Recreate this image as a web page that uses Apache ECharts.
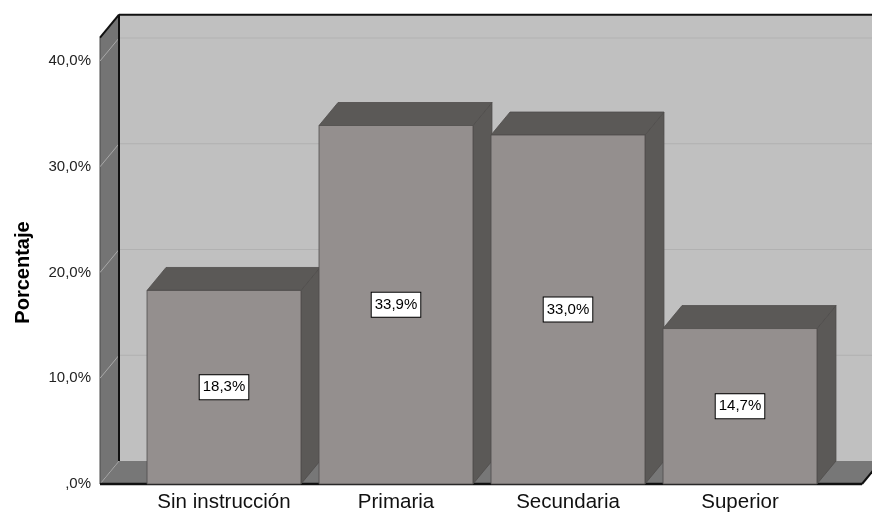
<!DOCTYPE html>
<html>
<head>
<meta charset="utf-8">
<script src="https://cdn.jsdelivr.net/npm/echarts@6/dist/echarts.min.js"></script>
<style>
  html, body { margin: 0; padding: 0; background: #ffffff; }
  #chart { width: 872px; height: 515px; }
</style>
</head>
<body>
<div id="chart"></div>
<script>
// Nivel de instrucción — porcentaje de encuestados
const categories = ['Sin instrucción', 'Primaria', 'Secundaria', 'Superior'];
const percentages = [18.3, 33.9, 33.0, 14.7];
const yTicks = [0, 10, 20, 30, 40];
const yTickLabels = [',0%', '10,0%', '20,0%', '30,0%', '40,0%'];
const barLabels = ['18,3%', '33,9%', '33,0%', '14,7%'];

// 3D look: depth offset of the back plane, wall height
const DX = 19, DY = -23;
const WALL_TOP = 42.2;
const FONT = 'Arial, "Liberation Sans", sans-serif';

const chart = echarts.init(document.getElementById('chart'), null, { renderer: 'canvas' });

function chamber(params, api) {
  const band = api.size([1, 0])[0];
  const xl = api.coord([0, 0])[0] - band / 2 - 38;
  const xr = api.coord([categories.length - 1, 0])[0] + band / 2 + 36;
  const yF = api.coord([0, 0])[1];
  const yW = api.coord([0, WALL_TOP])[1];
  const farRight = xr + DX + 40;
  const kids = [];
  // back wall
  kids.push({ type: 'rect', shape: { x: xl + DX, y: yW + DY, width: farRight - xl - DX, height: yF - yW },
    style: { fill: '#c0c0c0' } });
  // grid lines on the back wall and on the left wall
  yTicks.forEach(v => {
    if (v === 0) return;
    const y = api.coord([0, v])[1];
    kids.push({ type: 'line', shape: { x1: xl + DX, y1: y + DY, x2: farRight, y2: y + DY },
      style: { stroke: '#b1b1b1', lineWidth: 1.2 } });
  });
  // left wall
  kids.push({ type: 'polygon', shape: { points: [[xl, yF], [xl, yW], [xl + DX, yW + DY], [xl + DX, yF + DY]] },
    style: { fill: '#747474', stroke: '#4a4a4a', lineWidth: 1 } });
  yTicks.forEach(v => {
    if (v === 0) return;
    const y = api.coord([0, v])[1];
    kids.push({ type: 'line', shape: { x1: xl, y1: y, x2: xl + DX, y2: y + DY },
      style: { stroke: '#a8a8a8', lineWidth: 1 } });
  });
  // floor
  kids.push({ type: 'polygon', shape: { points: [[xl, yF], [xl + DX, yF + DY], [xr + DX, yF + DY], [xr, yF]] },
    style: { fill: '#777777' } });
  kids.push({ type: 'line', shape: { x1: xl, y1: yF, x2: xl + DX, y2: yF + DY },
    style: { stroke: '#a8a8a8', lineWidth: 1 } });
  // dark outline edges
  const edge = { stroke: '#111111', lineWidth: 2 };
  kids.push({ type: 'line', shape: { x1: xl + DX, y1: yW + DY, x2: xl + DX, y2: yF + DY }, style: edge });
  kids.push({ type: 'line', shape: { x1: xl + DX, y1: yW + DY, x2: farRight, y2: yW + DY }, style: edge });
  kids.push({ type: 'line', shape: { x1: xl, y1: yW, x2: xl + DX, y2: yW + DY }, style: edge });
  kids.push({ type: 'line', shape: { x1: xl, y1: yF, x2: xr, y2: yF }, style: { stroke: '#111111', lineWidth: 2.5 } });
  kids.push({ type: 'line', shape: { x1: xr, y1: yF, x2: xr + DX, y2: yF + DY }, style: edge });
  return { type: 'group', children: kids };
}

function bar3d(params, api) {
  const i = api.value(0);
  const v = api.value(1);
  const band = api.size([1, 0])[0];
  const w = band * 0.895;
  const top = api.coord([i, v]);
  const yF = api.coord([i, 0])[1];
  const x1 = top[0] - w / 2, x2 = top[0] + w / 2, yT = top[1];
  const line = { stroke: '#4f4d4b', lineWidth: 0.8 };
  return {
    type: 'group',
    children: [
      { type: 'polygon', shape: { points: [[x2, yT], [x2 + DX, yT + DY], [x2 + DX, yF + DY], [x2, yF]] },
        style: Object.assign({ fill: '#5b5957' }, line) },
      { type: 'polygon', shape: { points: [[x1, yT], [x1 + DX, yT + DY], [x2 + DX, yT + DY], [x2, yT]] },
        style: Object.assign({ fill: '#5b5957' }, line) },
      { type: 'rect', shape: { x: x1, y: yT, width: w, height: yF - yT },
        style: Object.assign({ fill: '#948f8e' }, line) },
      { type: 'text', x: top[0], y: (yT + yF) / 2,
        style: { text: barLabels[i], font: '15px ' + FONT, fill: '#000', align: 'center', verticalAlign: 'middle',
          backgroundColor: '#ffffff', borderColor: '#000000', borderWidth: 1, padding: [5, 3, 4, 3] } }
    ]
  };
}

chart.setOption({
  animation: false,
  backgroundColor: '#ffffff',
  grid: { left: 138, right: 46, top: 61, bottom: 31 },
  xAxis: {
    type: 'category',
    data: categories,
    axisLine: { show: false },
    axisTick: { show: false },
    axisLabel: { interval: 0, hideOverlap: false, color: '#111', fontFamily: FONT, fontSize: 20.5, margin: 8 }
  },
  yAxis: {
    type: 'value',
    min: 0, max: 40, interval: 10,
    name: 'Porcentaje',
    nameLocation: 'middle',
    nameRotate: 90,
    nameGap: 105,
    nameTextStyle: { color: '#000', fontFamily: FONT, fontSize: 20, fontWeight: 'bold' },
    axisLine: { show: false },
    axisTick: { show: false },
    splitLine: { show: false },
    axisLabel: {
      color: '#222', fontFamily: FONT, fontSize: 15, margin: 47,
      formatter: (val) => yTickLabels[yTicks.indexOf(val)]
    }
  },
  series: [
    { type: 'custom', name: 'fondo', renderItem: chamber, data: [[0, 0]], clip: false, silent: true, z: 1 },
    { type: 'custom', name: 'Porcentaje', renderItem: bar3d, clip: false, z: 2,
      data: percentages.map((p, i) => [i, p]) }
  ]
});
</script>
</body>
</html>
